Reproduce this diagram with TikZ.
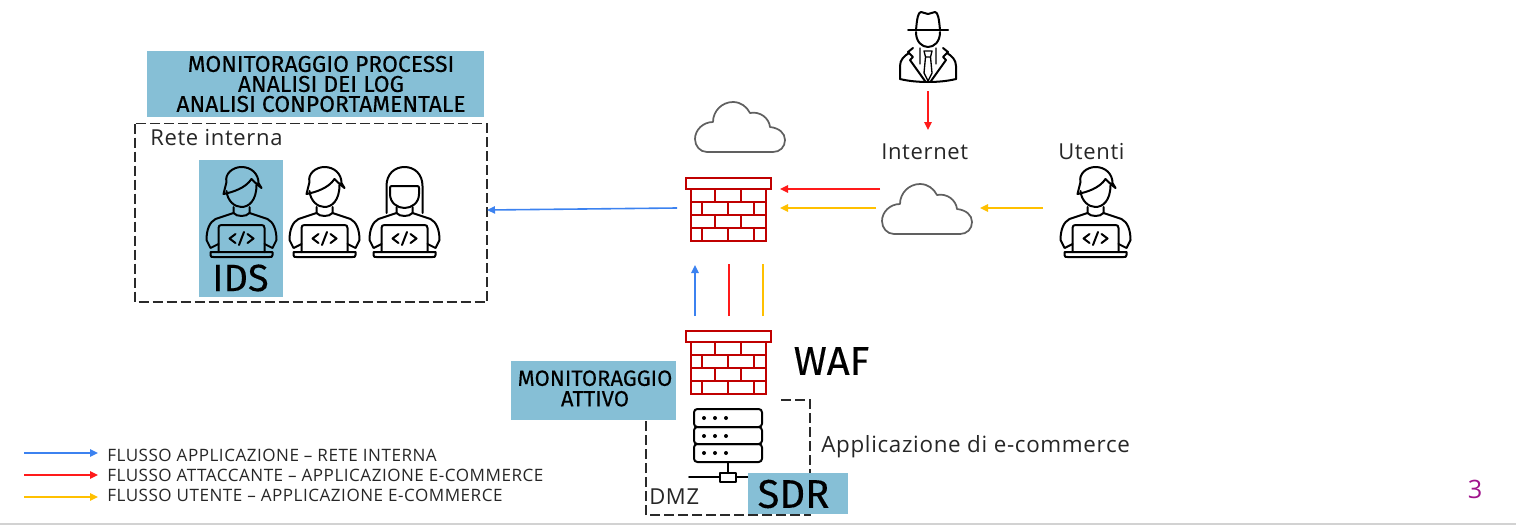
\documentclass[tikz,border=0pt]{standalone}
\usepackage{fontspec}
\setmainfont{Open Sans}
\newfontfamily\din[FakeBold=0.25]{Fira Sans}
\newfontfamily\lbl[LetterSpace=3]{Open Sans}
\usetikzlibrary{arrows.meta}
\definecolor{boxblue}{HTML}{86BFD6}
\definecolor{fwred}{HTML}{C00000}
\definecolor{flowblue}{HTML}{3C82F0}
\definecolor{flowred}{HTML}{FF1A1A}
\definecolor{flowyellow}{HTML}{FFC000}
\definecolor{cloudgrey}{HTML}{606060}
\definecolor{dashgrey}{HTML}{2A2A2A}
\definecolor{txt}{HTML}{262626}
\definecolor{pagenum}{HTML}{A0148C}
\tikzset{
  flow/.style={line width=1.2pt,-{Triangle[length=6pt,width=5.5pt]}},
  flat/.style={line width=1.2pt},
  zone/.style={draw=dashgrey,line width=1.2pt,dash pattern=on 7.5pt off 3pt},
  label/.style={text=txt,inner sep=0pt,font=\lbl\fontsize{16.5}{19}\selectfont,anchor=west},
  legend/.style={text=txt,inner sep=0pt,font=\lbl\fontsize{12.8}{14}\selectfont,anchor=west},
  bluebox/.style={fill=boxblue,inner sep=0pt},
  din/.style={text=black,align=center,inner sep=0pt},
  icon/.style={draw=black,line width=1.5pt,line join=round,line cap=round},
  fwline/.style={draw=fwred,line width=1.5pt},
  pics/developer/.style={code={
    % local units = reference pixels, origin at the head centre
    \draw[icon] (-8,19) -- (-8,25) -- (-26,31) .. controls (-32,34) and (-35,42) .. (-35,52) -- (-31,60) -- (-23,56);
    \draw[icon] (8,19) -- (8,25) -- (26,31) .. controls (32,34) and (35,42) .. (35,52) -- (31,60) -- (23,56);
    \draw[icon] (-8,25) .. controls (-5,29) and (5,29) .. (8,25);
    \draw[icon] (-23,64) -- (-23,40) .. controls (-23,38) and (-22,37) .. (-20,37) -- (20,37) .. controls (22,37) and (23,38) .. (23,40) -- (23,64);
    \draw[icon] (-31,64) -- (31,64) -- (31,67) .. controls (31,69) and (30,69) .. (28,69) -- (-28,69) .. controls (-30,69) and (-31,69) .. (-31,67) -- cycle;
    \draw[icon] (-6,46) -- (-12,50.5) -- (-6,55) (6,46) -- (12,50.5) -- (6,55) (2.5,44) -- (-2.5,57);
  }},
  pics/hairshort/.style={code={
    \draw[icon] (-15,3) .. controls (-14,13) and (-7,19) .. (0,19) .. controls (7,19) and (15,13) .. (15,-3);
    \draw[icon] (-18,6) .. controls (-8,4) and (4,0) .. (10,-9) .. controls (13,-6) and (16,-3) .. (20,0) -- (17,-5) .. controls (17,-14) and (10,-21) .. (0,-21) .. controls (-9,-21) and (-17,-14) .. (-15,-6) -- cycle;
  }},
  pics/hairlong/.style={code={
    \draw[icon] (-18,25) -- (-18,-2) .. controls (-18,-14) and (-10,-21) .. (0,-21) .. controls (10,-21) and (18,-14) .. (18,-2) -- (18,25);
    \draw[icon] (-14.5,0) .. controls (-14.5,-1) and (-14,-2) .. (-13,-2) -- (13,-2) .. controls (14,-2) and (14.5,-1) .. (14.5,0) -- (14.5,6) .. controls (14.5,15) and (7,20) .. (0,20) .. controls (-7,20) and (-14.5,15) .. (-14.5,6) -- cycle;
  }},
  pics/cloud/.style={code={
    \draw[draw=cloudgrey,line width=1.3pt,line join=round] (-31,25) .. controls (-38,25) and (-43,19) .. (-43,12) .. controls (-43,3) and (-35,-5) .. (-25,-5) .. controls (-25,-16) and (-16,-25) .. (-5,-25) .. controls (3,-25) and (9,-20) .. (12,-14) .. controls (22,-16) and (31,-9) .. (32,0) .. controls (41,1) and (47,6) .. (47,13) .. controls (47,20) and (42,25) .. (35,25) -- cycle;
  }},
  pics/firewall/.style={code={
    % origin = top-left of cap
    \draw[fwline] (0,0) rectangle (85,11);
    \draw[fwline] (5,11) rectangle (80,63);
    \draw[fwline] (5,24) -- (80,24) (5,37) -- (80,37) (5,50) -- (80,50);
    \draw[fwline] (29,11) -- (29,24) (55,11) -- (55,24)
      (16,24) -- (16,37) (42,24) -- (42,37) (68,24) -- (68,37)
      (29,37) -- (29,50) (55,37) -- (55,50)
      (16,50) -- (16,63) (42,50) -- (42,63) (68,50) -- (68,63);
  }}
}
\begin{document}
\begin{tikzpicture}[x=0.75pt,y=-0.75pt]
\useasboundingbox (0,0) rectangle (1516,525);
% footer rule
\fill[gray!35] (0,522.5) rectangle (1516,525);

% top-left monitoring box
\node[bluebox,minimum width=337*0.75pt,minimum height=66*0.75pt] (monproc) at (315.5,84) {};
\node[din,font=\din\fontsize{17.2}{15}\selectfont] (monproctxt) at (321,84) {MONITORAGGIO PROCESSI\\ANALISI DEI LOG\\ANALISI CONPORTAMENTALE};

% rete interna
\draw[zone] (135,123.5) rectangle (487,302);
\coordinate (reteport) at (487,210);
\node[label] (retelbl) at (150,138) {Rete interna};
\node[bluebox,minimum width=84*0.75pt,minimum height=137*0.75pt] (idsbox) at (241,228.5) {};
\pic at (241.5,188) {developer};
\pic at (241.5,188) {hairshort};
\pic at (324.5,188) {developer};
\pic at (324.5,188) {hairshort};
\pic at (404.5,188) {developer};
\pic at (404.5,188) {hairlong};
\node[din,font=\din\fontsize{28.5}{28}\selectfont] (ids) at (240.5,278) {IDS};

% firewalls and clouds
\pic at (686,178) {firewall};
\coordinate (fwA) at (677,208);
\pic at (686,331) {firewall};
\pic at (738,127) {cloud};
\pic at (925,209) {cloud};
\node[label] (internet) at (881,152) {Internet};
\node[label] (utenti) at (1058,152) {Utenti};
\node[din,font=\din\fontsize{30}{30}\selectfont] (waf) at (831.5,361) {WAF};

% attacker
\begin{scope}[shift={(928,52)}]
\draw[icon] (-12,-22) .. controls (-11,-33) and (-10,-40) .. (-7,-40) .. controls (-4,-40) and (-3,-38) .. (0,-38) .. controls (3,-38) and (4,-40) .. (7,-40) .. controls (10,-40) and (11,-33) .. (12,-22);
\draw[icon] (-20,-22) -- (20,-22);
\draw[icon] (-12,-20) .. controls (-12,-10) and (-6,-5) .. (0,-5) .. controls (6,-5) and (12,-10) .. (12,-20);
\draw[icon] (-19,1) .. controls (-24,4) and (-28,8) .. (-28,14) -- (-28,27) (19,1) .. controls (24,4) and (28,8) .. (28,14) -- (28,27);
\draw[icon] (-28,27) .. controls (-12,31) and (12,31) .. (28,27);
\draw[icon] (-15,-4) -- (-20,0) -- (-15,5) -- (-18,8) -- (-3,29) (15,-4) -- (20,0) -- (15,5) -- (18,8) -- (3,29);
\draw[icon,line width=1pt] (-4,-1) -- (4,-1) -- (2.5,5) -- (-2.5,5) -- cycle (-2.5,5) -- (-4,21) -- (0,29) -- (4,21) -- (2.5,5) (-8,-4) -- (-8,12) (8,-4) -- (8,12);
\end{scope}
\coordinate (attacker) at (928,91);
\coordinate (netN) at (928,130);

% user
\pic at (1095.5,188) {developer};
\pic at (1095.5,188) {hairshort};
\coordinate (userport) at (1043,208);
\coordinate (netE) at (980,208);
\coordinate (netW1) at (880,189);
\coordinate (netW2) at (876,208);
\coordinate (fwE1) at (780,189);
\coordinate (fwE2) at (780,208);

% DMZ
\draw[zone] (781,400) -- (810,400) -- (810,515) -- (646,515) -- (646,420);
\node[bluebox,minimum width=165*0.75pt,minimum height=59*0.75pt] (monatt) at (593.5,390.5) {};
\node[din,font=\din\fontsize{16.5}{15.4}\selectfont] (monatttxt) at (595,388.5) {MONITORAGGIO\\ATTIVO};

% server
\begin{scope}[shift={(728,408)}]
\draw[icon,rounded corners=2.5pt] (-34,1) rectangle (34,19);
\draw[icon,rounded corners=2.5pt] (-34,19) rectangle (34,36);
\draw[icon,rounded corners=2.5pt] (-34,36) rectangle (34,54);
\foreach \yy in {10,28,45}{\foreach \xx in {-24,-13,-2}{\fill (\xx,\yy) circle (2);}}
\draw[icon] (0,54) -- (0,65);
\draw[icon] (-39,69) -- (-8,69) (8,69) -- (22,69);
\draw[icon] (-8,65) rectangle (8,74);
\end{scope}
\node[bluebox,minimum width=100*0.75pt,minimum height=41*0.75pt] (sdrbox) at (798,493.5) {};
\node[din,font=\din\fontsize{30}{30}\selectfont] (sdr) at (793.5,494) {SDR};
\node[label] (dmz) at (649,497) {DMZ};
\node[label,font=\lbl\fontsize{16.8}{19}\selectfont] (ecom) at (821,447) {Applicazione di e-commerce};

% connectors
\draw[flow,flowblue] (fwA) -- (reteport);
\draw[flow,flowred] (attacker) -- (netN);
\draw[flow,flowred] (netW1) -- (fwE1);
\draw[flow,flowyellow] (netW2) -- (fwE2);
\draw[flow,flowyellow] (userport) -- (netE);
\coordinate (wafN1) at (695,316);
\coordinate (fwS1) at (695,265);
\coordinate (wafN2) at (729,316);
\coordinate (fwS2) at (729,264);
\coordinate (wafN3) at (763,316);
\coordinate (fwS3) at (763,264);
\draw[flow,flowblue] (wafN1) -- (fwS1);
\draw[flat,flowred] (wafN2) -- (fwS2);
\draw[flat,flowyellow] (wafN3) -- (fwS3);

% legend
\coordinate (k1a) at (24,453); \coordinate (k1b) at (98,453);
\coordinate (k2a) at (24,475); \coordinate (k2b) at (98,475);
\coordinate (k3a) at (24,497); \coordinate (k3b) at (98,497);
\draw[flow,flowblue] (k1a) -- (k1b);
\draw[flow,flowred] (k2a) -- (k2b);
\draw[flow,flowyellow] (k3a) -- (k3b);
\node[legend] (l1) at (107,455.5) {FLUSSO APPLICAZIONE – RETE INTERNA};
\node[legend] (l2) at (107,475.5) {FLUSSO ATTACCANTE – APPLICAZIONE E-COMMERCE};
\node[legend] (l3) at (107,495.5) {FLUSSO UTENTE – APPLICAZIONE E-COMMERCE};

\node[inner sep=0pt,text=pagenum,font=\fontsize{19}{20}\selectfont] (page) at (1475,489) {3};
\end{tikzpicture}
\end{document}
